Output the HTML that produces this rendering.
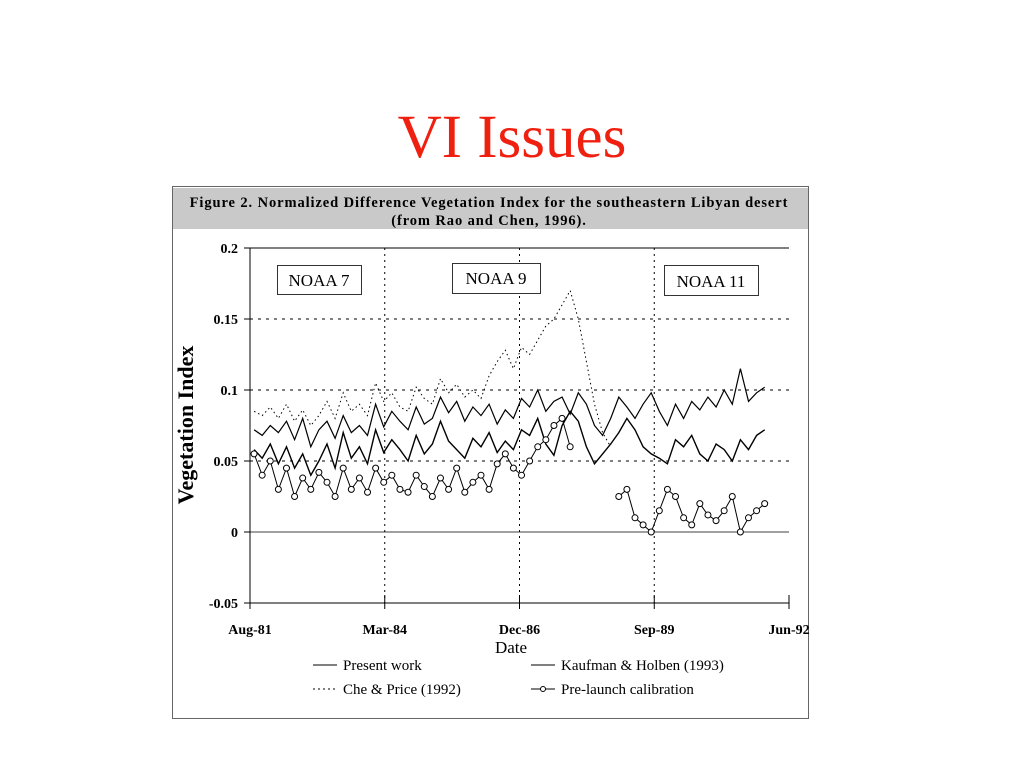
<!DOCTYPE html>
<html><head><meta charset="utf-8">
<style>
html,body{margin:0;padding:0;background:#fff;}
svg{display:block;font-family:"Liberation Serif",serif;}
</style></head>
<body>
<svg id="chart" width="1024" height="768" viewBox="0 0 1024 768">
<text x="512" y="157" text-anchor="middle" font-size="61" fill="#f02010">VI Issues</text>
<rect x="172.5" y="186.5" width="636" height="532" fill="#fff" stroke="#666"/>
<rect x="173" y="188" width="635" height="41" fill="#c9c9c9"/>
<text x="489" y="207" text-anchor="middle" font-size="14.5" font-weight="bold" letter-spacing="0.9">Figure 2.  Normalized Difference Vegetation Index for the southeastern Libyan desert</text>
<text x="489" y="225" text-anchor="middle" font-size="14.5" font-weight="bold" letter-spacing="0.9">(from Rao and Chen, 1996).</text>
<g id="plot"></g>
<g><rect x="277.5" y="265.5" width="84" height="29" fill="#fff" stroke="#333"/><text x="319" y="286" text-anchor="middle" font-size="17">NOAA  7</text></g>
<g><rect x="452.5" y="263.5" width="88" height="30" fill="#fff" stroke="#333"/><text x="496" y="284" text-anchor="middle" font-size="17">NOAA  9</text></g>
<g><rect x="664.5" y="265.5" width="94" height="30" fill="#fff" stroke="#333"/><text x="711" y="287" text-anchor="middle" font-size="17">NOAA  11</text></g>
<text transform="translate(193,425) rotate(-90)" text-anchor="middle" font-size="22" font-weight="bold">Vegetation Index</text>
<text x="511" y="653" text-anchor="middle" font-size="17">Date</text>
<g>
<g><line x1="313" y1="665" x2="337" y2="665" stroke="#000"/><text x="343" y="670" font-size="15">Present work</text></g>
<g><line x1="531" y1="665" x2="555" y2="665" stroke="#000"/><text x="561" y="670" font-size="15">Kaufman &amp; Holben (1993)</text></g>
<g><line x1="313" y1="689" x2="337" y2="689" stroke="#000" stroke-dasharray="2,3"/><text x="343" y="694" font-size="15">Che &amp; Price (1992)</text></g>
<g><line x1="531" y1="689" x2="555" y2="689" stroke="#000"/><circle cx="543" cy="689" r="2.5" fill="#fff" stroke="#000"/><text x="561" y="694" font-size="15">Pre-launch calibration</text></g>
</g>
</svg>
<script>
const xTickLabels=["Aug-81","Mar-84","Dec-86","Sep-89","Jun-92"];
const yTickValues=[0.2,0.15,0.1,0.05,0,-0.05];
const yTickLabels=["0.2","0.15","0.1","0.05","0","-0.05"];
const months=Array.from({length:64},(_, i)=>2*i+1);
const presentWork=[0.072,0.068,0.075,0.070,0.078,0.065,0.080,0.060,0.072,0.078,0.066,0.082,0.070,0.075,0.068,0.090,0.074,0.085,0.078,0.072,0.088,0.076,0.080,0.095,0.084,0.092,0.078,0.088,0.082,0.090,0.076,0.086,0.080,0.094,0.088,0.100,0.085,0.092,0.095,0.083,0.098,0.090,0.075,0.068,0.080,0.095,0.088,0.080,0.090,0.098,0.085,0.075,0.090,0.080,0.092,0.086,0.095,0.088,0.100,0.090,0.115,0.092,0.098,0.102];
const kaufman=[0.058,0.052,0.062,0.048,0.060,0.045,0.055,0.040,0.050,0.062,0.045,0.070,0.052,0.060,0.048,0.072,0.056,0.065,0.058,0.050,0.068,0.055,0.062,0.078,0.064,0.058,0.052,0.066,0.060,0.070,0.056,0.064,0.058,0.072,0.068,0.080,0.062,0.054,0.075,0.085,0.078,0.060,0.048,0.055,0.062,0.070,0.080,0.072,0.060,0.055,0.052,0.048,0.065,0.060,0.068,0.055,0.050,0.062,0.058,0.050,0.065,0.058,0.068,0.072];
const chePrice=[0.085,0.082,0.088,0.080,0.090,0.078,0.086,0.075,0.082,0.092,0.080,0.098,0.085,0.090,0.082,0.105,0.092,0.098,0.088,0.085,0.102,0.094,0.090,0.108,0.098,0.104,0.095,0.100,0.094,0.110,0.120,0.128,0.115,0.130,0.125,0.135,0.145,0.150,0.160,0.170,0.150,0.120,0.090,0.070,0.060];
const preLaunch=[0.055,0.040,0.050,0.030,0.045,0.025,0.038,0.030,0.042,0.035,0.025,0.045,0.030,0.038,0.028,0.045,0.035,0.040,0.030,0.028,0.040,0.032,0.025,0.038,0.030,0.045,0.028,0.035,0.040,0.030,0.048,0.055,0.045,0.040,0.050,0.060,0.065,0.075,0.080,0.060,null,null,null,null,null,0.025,0.030,0.010,0.005,0.000,0.015,0.030,0.025,0.010,0.005,0.020,0.012,0.008,0.015,0.025,0.000,0.010,0.015,0.020];

const NS="http://www.w3.org/2000/svg";
const g=document.getElementById('plot');
const X0=250,X1=789,Y0=532,PY=1420;
const xm=m=>X0+(X1-X0)*m/133;
const yv=v=>Y0-v*PY;
function mk(t,a){const e=document.createElementNS(NS,t);for(const k in a)e.setAttribute(k,a[k]);g.appendChild(e);return e;}
[0.15,0.1,0.05].forEach(v=>{const l=mk('line',{x1:X0,x2:X1,y1:yv(v),y2:yv(v),stroke:'#000','stroke-dasharray':'3,5'});

});
[1,2,3].forEach(i=>{const x=X0+(X1-X0)*i/4;const l=mk('line',{x1:x,x2:x,y1:yv(0.2),y2:yv(-0.05),stroke:'#000','stroke-dasharray':'2,4'});

});
let a=mk('line',{x1:X0,x2:X0,y1:yv(0.2),y2:yv(-0.05),stroke:'#000'});


a=mk('line',{x1:X0,x2:X1,y1:yv(0.2),y2:yv(0.2),stroke:'#000'});


a=mk('line',{x1:X0,x2:X1,y1:yv(0),y2:yv(0),stroke:'#000','stroke-width':0.8});


a=mk('line',{x1:X0,x2:X1,y1:yv(-0.05),y2:yv(-0.05),stroke:'#000'});


yTickValues.forEach((v,i)=>{const t=mk('line',{x1:X0-6,x2:X0,y1:yv(v),y2:yv(v),stroke:'#000'});


const tx=mk('text',{x:X0-12,y:yv(v)+5,'text-anchor':'end','font-size':14,'font-weight':'bold'});tx.textContent=yTickLabels[i];

});
xTickLabels.forEach((s,i)=>{const x=X0+(X1-X0)*i/4;const t=mk('line',{x1:x,x2:x,y1:yv(-0.05)-8,y2:yv(-0.05)+6,stroke:'#000'});


const tx=mk('text',{x:x,y:634,'text-anchor':'middle','font-size':14,'font-weight':'bold'});tx.textContent=s;

});
function path(arr){let d='',pen=false;arr.forEach((v,i)=>{if(v==null){pen=false;return;}d+=(pen?'L':'M')+xm(months[i]).toFixed(1)+','+yv(v).toFixed(1);pen=true;});return d;}
let p=mk('path',{d:path(chePrice),fill:'none',stroke:'#000','stroke-dasharray':'1.5,3'});


p=mk('path',{d:path(presentWork),fill:'none',stroke:'#000','stroke-width':1.2});


p=mk('path',{d:path(kaufman),fill:'none',stroke:'#000','stroke-width':1.4});


p=mk('path',{d:path(preLaunch),fill:'none',stroke:'#000','stroke-width':1});


preLaunch.forEach((v,i)=>{if(v==null)return;const c=mk('circle',{cx:xm(months[i]),cy:yv(v),r:3,fill:'#fff',stroke:'#000'});

});
</script>
</body></html>
